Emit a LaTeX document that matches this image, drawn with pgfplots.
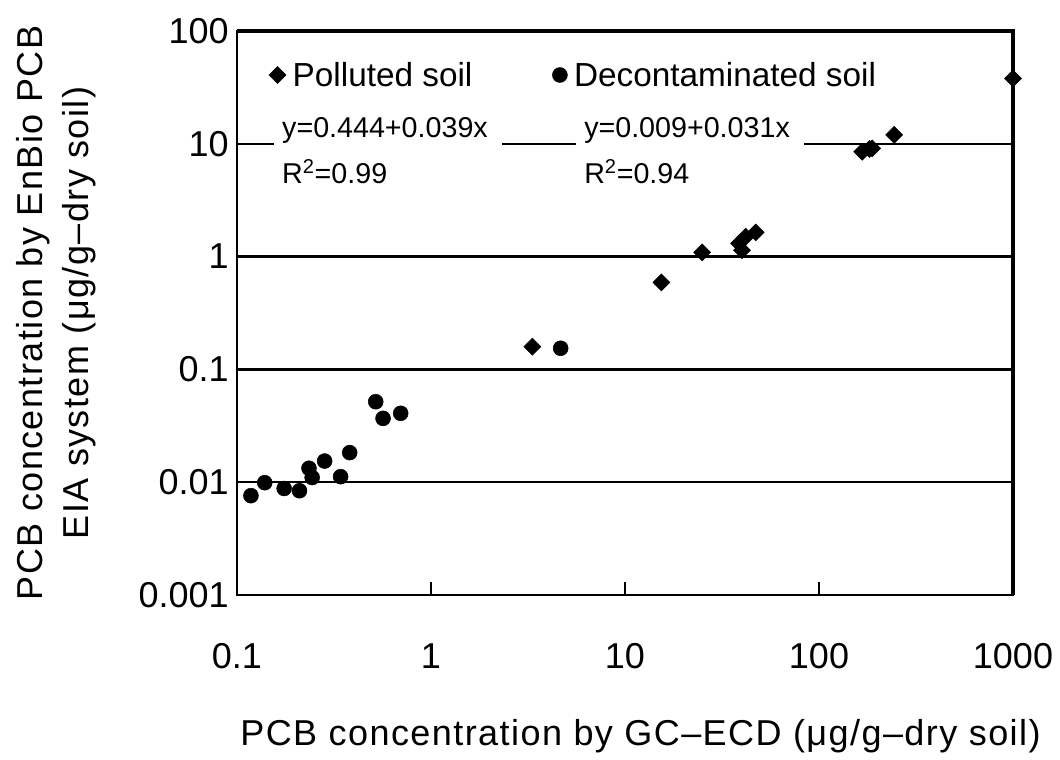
\documentclass[border=0pt]{standalone}
\usepackage{fontspec}
\setmainfont{Liberation Sans}
\newfontfamily\lblfont[LetterSpace=4]{Liberation Sans}
\usepackage{pgfplots}
\pgfplotsset{compat=1.18}
\begin{document}
\begin{tikzpicture}
\begin{axis}[
  scale only axis, width=582pt, height=423pt,
  xmode=log, ymode=log,
  xmin=0.1, xmax=1000, ymin=0.001, ymax=100,
  xtick={0.1,1,10,100,1000}, xticklabels={0.1,1,10,100,1000},
  ytick={0.001,0.01,0.1,1,10,100}, yticklabels={0.001,0.01,0.1,1,10,100},
  xminorticks=false, yminorticks=false,
  axis lines=box,
  tick align=inside, tick pos=left,
  major tick length=10pt,
  tick style={line width=1.5pt, black},
  ymajorgrids, grid style={line width=1.8pt, black},
  axis line style={line width=1.8pt, black},
  /pgf/number format/assume math mode=true,
  ticklabel style={font=\fontsize{27}{30}\selectfont},
  xticklabel style={inner sep=0pt, yshift=-36pt},
  yticklabel style={inner sep=0pt, xshift=-6pt},
  clip=false,
  xlabel={PCB concentration by GC–ECD (μg/g–dry soil)},
  xlabel style={at={(axis description cs:0.52,-0.266)}, anchor=base, font=\lblfont\fontsize{27}{34}\selectfont},
  ylabel={PCB concentration by EnBio PCB\\EIA system (μg/g–dry soil)},
  ylabel style={at={(axis description cs:-0.233,0.5)}, anchor=center, align=center, font=\lblfont\fontsize{27}{34}\selectfont},
  legend columns=2,
  legend style={at={(rel axis cs:0.041,0.922)}, anchor=west, draw=none, fill=none, inner sep=0pt,
    font=\fontsize{25}{28}\selectfont,
    /tikz/every odd column/.append style={column sep=3pt},
    /tikz/every even column/.append style={column sep=58pt}},
  legend image code/.code={\draw[#1] plot coordinates {(0pt,0pt)};},
]
\addplot[only marks, mark=square*, mark size=4.5pt, mark options={rotate=45, fill=black, draw=black}] coordinates {
 (3.33,0.159) (15.4,0.59) (25.0,1.09) (38.7,1.31) (40.1,1.14) (41.9,1.50) (47.2,1.64)
 (167,8.5) (182,9.0) (188,9.12) (244,12.0) (1000,38)
};
\addlegendentry{Polluted soil}
\addplot[only marks, mark=*, mark size=5.6pt, mark options={fill=black, draw=black}] coordinates {
 (0.118,0.0076) (0.139,0.0099) (0.175,0.0088) (0.210,0.0084) (0.235,0.0133) (0.244,0.0110)
 (0.283,0.0154) (0.342,0.0112) (0.381,0.0183) (0.519,0.0517) (0.566,0.0368) (0.698,0.0408)
 (4.66,0.154)
};
\addlegendentry{Decontaminated soil}
\node[fill=white, anchor=west, align=left, inner xsep=6pt, inner ysep=4pt, text width=159pt,
  font=\fontsize{21.5}{34}\selectfont] at (axis cs:0.155,8.72) {y=0.444+0.039x\\R\textsuperscript{2}=0.99};
\node[fill=white, anchor=west, align=left, inner xsep=6pt, inner ysep=4pt, text width=159pt,
  font=\fontsize{21.5}{34}\selectfont] at (axis cs:5.59,8.72) {y=0.009+0.031x\\R\textsuperscript{2}=0.94};
\draw[line width=2.6pt, black] (rel axis cs:0,1) -- (rel axis cs:1,1) -- (rel axis cs:1,0);
\end{axis}
\pgfresetboundingbox
\path (current axis.south west) ++(-177.75pt,-123.75pt) rectangle ++(795pt,570pt);
\end{tikzpicture}
\end{document}
